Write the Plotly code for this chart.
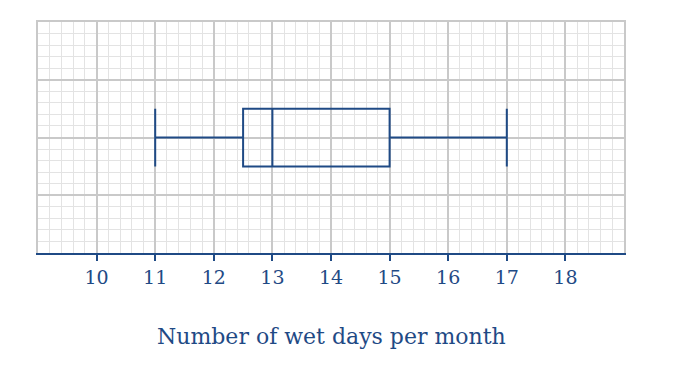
import plotly.graph_objects as go

# Data
q1 = [12.5]
median = [13]
q3 = [15]
lowerfence = [11]
upperfence = [17]
tick_vals = [10, 11, 12, 13, 14, 15, 16, 17, 18]
tick_text = [str(v) for v in tick_vals]
x_title = "Number of wet days per month"

BLUE = "#1f4a85"
GRID = "#c9c9c9"
FONT = "DejaVu Serif"

fig = go.Figure()
fig.add_trace(go.Box(
    q1=q1, median=median, q3=q3, lowerfence=lowerfence, upperfence=upperfence,
    y=[2], orientation="h", width=1, whiskerwidth=1,
    fillcolor="rgba(0,0,0,0)", line=dict(color=BLUE, width=2),
    boxpoints=False, showlegend=False, hoverinfo="skip",
    xaxis="x", yaxis="y",
))
fig.add_trace(go.Scatter(x=[9, 19], y=[0, 0], mode="markers", marker=dict(opacity=0),
                         xaxis="x2", yaxis="y", showlegend=False, hoverinfo="skip"))

fig.update_layout(
    width=699, height=372,
    margin=dict(l=30, r=83, t=12, b=127),
    paper_bgcolor="white", plot_bgcolor="white",
    font=dict(family=FONT, color=BLUE),
    xaxis=dict(range=[9, 19], tickmode="linear", tick0=9, dtick=1,
               showgrid=True, gridcolor=GRID, gridwidth=2,
               minor=dict(dtick=0.2, tick0=9, showgrid=True, gridcolor="#e3e3e3", gridwidth=1),
               showticklabels=False, ticks="", zeroline=False,
               showline=True, mirror=True, linecolor=GRID, linewidth=2, fixedrange=True),
    xaxis2=dict(range=[9, 19], overlaying="x", side="bottom", tickmode="array",
                tickvals=tick_vals, ticktext=tick_text, ticks="outside", ticklen=6,
                tickwidth=2, tickcolor=BLUE, showgrid=False, zeroline=False,
                showline=True, linecolor=BLUE, linewidth=2,
                tickfont=dict(family=FONT, size=19, color=BLUE), fixedrange=True),
    yaxis=dict(range=[0, 4], tickmode="linear", tick0=0, dtick=1,
               showgrid=True, gridcolor=GRID, gridwidth=2,
               minor=dict(dtick=0.2, tick0=0, showgrid=True, gridcolor="#e3e3e3", gridwidth=1),
               showticklabels=False, ticks="", zeroline=False,
               showline=True, mirror=True, linecolor=GRID, linewidth=2, fixedrange=True),
    annotations=[dict(text=x_title, xref="paper", yref="paper", x=0.5, y=-0.36,
                      xanchor="center", yanchor="middle", showarrow=False,
                      font=dict(family=FONT, size=22, color=BLUE))],
)

fig.write_html("out.html")
